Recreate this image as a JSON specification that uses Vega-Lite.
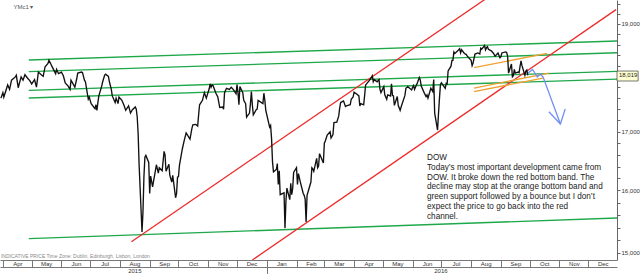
{
  "$schema": "https://vega.github.io/schema/vega-lite/v6.json",
  "width": 617,
  "height": 260,
  "autosize": {"type": "none"},
  "padding": {"left": 0, "top": 0, "right": 23, "bottom": 14},
  "background": "white",
  "view": {"stroke": null},
  "config": {"font": "Liberation Sans"},
  "datasets": {
    "price": [
      {"d":"2015-03-30","p":17600},{"d":"2015-04-01","p":17700},{"d":"2015-04-02","p":17620},{"d":"2015-04-06","p":17840},{"d":"2015-04-08","p":17760},{"d":"2015-04-10","p":17930},{"d":"2015-04-14","p":17990},{"d":"2015-04-15","p":18020},{"d":"2015-04-17","p":17790},{"d":"2015-04-20","p":17990},{"d":"2015-04-22","p":17930},{"d":"2015-04-24","p":18030},{"d":"2015-04-27","p":17960},{"d":"2015-04-29","p":17920},
      {"d":"2015-05-01","p":17860},{"d":"2015-05-04","p":17940},{"d":"2015-05-06","p":17800},{"d":"2015-05-08","p":18080},{"d":"2015-05-11","p":18030},{"d":"2015-05-13","p":18000},{"d":"2015-05-15","p":18180},{"d":"2015-05-18","p":18240},{"d":"2015-05-19","p":18300},{"d":"2015-05-21","p":18230},{"d":"2015-05-22","p":18190},{"d":"2015-05-26","p":18050},{"d":"2015-05-27","p":18130},{"d":"2015-05-29","p":18050},
      {"d":"2015-06-01","p":18080},{"d":"2015-06-03","p":18010},{"d":"2015-06-05","p":17880},{"d":"2015-06-08","p":17820},{"d":"2015-06-10","p":17760},{"d":"2015-06-11","p":17930},{"d":"2015-06-15","p":17800},{"d":"2015-06-17","p":17960},{"d":"2015-06-18","p":18060},{"d":"2015-06-22","p":18080},{"d":"2015-06-23","p":18070},{"d":"2015-06-25","p":17930},{"d":"2015-06-26","p":17900},{"d":"2015-06-29","p":17580},{"d":"2015-06-30","p":17620},
      {"d":"2015-07-01","p":17560},{"d":"2015-07-02","p":17500},{"d":"2015-07-06","p":17410},{"d":"2015-07-07","p":17480},{"d":"2015-07-08","p":17380},{"d":"2015-07-09","p":17520},{"d":"2015-07-10","p":17640},{"d":"2015-07-13","p":17820},{"d":"2015-07-14","p":17900},{"d":"2015-07-16","p":18020},{"d":"2015-07-17","p":18040},{"d":"2015-07-20","p":18000},{"d":"2015-07-21","p":17900},{"d":"2015-07-23","p":17760},{"d":"2015-07-24","p":17640},{"d":"2015-07-27","p":17520},{"d":"2015-07-28","p":17600},{"d":"2015-07-30","p":17500},{"d":"2015-07-31","p":17620},
      {"d":"2015-08-03","p":17560},{"d":"2015-08-05","p":17480},{"d":"2015-08-07","p":17380},{"d":"2015-08-10","p":17460},{"d":"2015-08-12","p":17330},{"d":"2015-08-14","p":17390},{"d":"2015-08-17","p":17440},{"d":"2015-08-18","p":17400},{"d":"2015-08-19","p":17260},{"d":"2015-08-20","p":16950},{"d":"2015-08-21","p":16420},{"d":"2015-08-24","p":15330},{"d":"2015-08-25","p":15650},{"d":"2015-08-26","p":16230},{"d":"2015-08-27","p":16560},{"d":"2015-08-28","p":16590},{"d":"2015-08-31","p":16470},
      {"d":"2015-09-01","p":15950},{"d":"2015-09-02","p":16240},{"d":"2015-09-04","p":16060},{"d":"2015-09-08","p":16430},{"d":"2015-09-10","p":16290},{"d":"2015-09-11","p":16380},{"d":"2015-09-14","p":16330},{"d":"2015-09-16","p":16660},{"d":"2015-09-17","p":16600},{"d":"2015-09-18","p":16320},{"d":"2015-09-21","p":16440},{"d":"2015-09-22","p":16250},{"d":"2015-09-24","p":16140},{"d":"2015-09-25","p":16250},{"d":"2015-09-28","p":15880},{"d":"2015-09-29","p":15950},{"d":"2015-09-30","p":16220},
      {"d":"2015-10-01","p":16230},{"d":"2015-10-02","p":16420},{"d":"2015-10-05","p":16700},{"d":"2015-10-07","p":16850},{"d":"2015-10-09","p":16980},{"d":"2015-10-13","p":16870},{"d":"2015-10-15","p":17060},{"d":"2015-10-16","p":17120},{"d":"2015-10-19","p":17130},{"d":"2015-10-21","p":17100},{"d":"2015-10-22","p":17300},{"d":"2015-10-23","p":17480},{"d":"2015-10-26","p":17560},{"d":"2015-10-28","p":17700},{"d":"2015-10-30","p":17600},
      {"d":"2015-11-02","p":17770},{"d":"2015-11-03","p":17860},{"d":"2015-11-04","p":17800},{"d":"2015-11-05","p":17840},{"d":"2015-11-06","p":17830},{"d":"2015-11-09","p":17690},{"d":"2015-11-11","p":17620},{"d":"2015-11-13","p":17430},{"d":"2015-11-16","p":17440},{"d":"2015-11-17","p":17400},{"d":"2015-11-18","p":17700},{"d":"2015-11-20","p":17780},{"d":"2015-11-23","p":17760},{"d":"2015-11-25","p":17800},{"d":"2015-11-27","p":17760},{"d":"2015-11-30","p":17680},
      {"d":"2015-12-01","p":17850},{"d":"2015-12-02","p":17700},{"d":"2015-12-03","p":17480},{"d":"2015-12-04","p":17810},{"d":"2015-12-07","p":17700},{"d":"2015-12-08","p":17560},{"d":"2015-12-10","p":17500},{"d":"2015-12-11","p":17260},{"d":"2015-12-14","p":17330},{"d":"2015-12-15","p":17500},{"d":"2015-12-16","p":17720},{"d":"2015-12-17","p":17470},{"d":"2015-12-18","p":17300},{"d":"2015-12-21","p":17390},{"d":"2015-12-22","p":17400},{"d":"2015-12-23","p":17560},{"d":"2015-12-28","p":17500},{"d":"2015-12-29","p":17690},{"d":"2015-12-30","p":17560},{"d":"2015-12-31","p":17380},
      {"d":"2016-01-04","p":17080},{"d":"2016-01-05","p":17110},{"d":"2016-01-06","p":16880},{"d":"2016-01-07","p":16480},{"d":"2016-01-08","p":16310},{"d":"2016-01-11","p":16350},{"d":"2016-01-12","p":16450},{"d":"2016-01-13","p":16100},{"d":"2016-01-14","p":16330},{"d":"2016-01-15","p":15930},{"d":"2016-01-19","p":15960},{"d":"2016-01-20","p":15390},{"d":"2016-01-21","p":15830},{"d":"2016-01-22","p":16040},{"d":"2016-01-25","p":15850},{"d":"2016-01-26","p":16120},{"d":"2016-01-27","p":15930},{"d":"2016-01-28","p":16030},{"d":"2016-01-29","p":16300},
      {"d":"2016-02-01","p":16380},{"d":"2016-02-02","p":16100},{"d":"2016-02-03","p":16280},{"d":"2016-02-05","p":16140},{"d":"2016-02-08","p":15950},{"d":"2016-02-09","p":15920},{"d":"2016-02-10","p":15860},{"d":"2016-02-11","p":15490},{"d":"2016-02-12","p":15920},{"d":"2016-02-16","p":16140},{"d":"2016-02-17","p":16380},{"d":"2016-02-18","p":16360},{"d":"2016-02-19","p":16320},{"d":"2016-02-22","p":16540},{"d":"2016-02-23","p":16380},{"d":"2016-02-24","p":16410},{"d":"2016-02-25","p":16620},{"d":"2016-02-26","p":16580},{"d":"2016-02-29","p":16460},
      {"d":"2016-03-01","p":16800},{"d":"2016-03-02","p":16840},{"d":"2016-03-04","p":16940},{"d":"2016-03-07","p":17000},{"d":"2016-03-08","p":16890},{"d":"2016-03-10","p":16950},{"d":"2016-03-11","p":17160},{"d":"2016-03-14","p":17170},{"d":"2016-03-16","p":17280},{"d":"2016-03-17","p":17420},{"d":"2016-03-18","p":17520},{"d":"2016-03-21","p":17550},{"d":"2016-03-23","p":17450},{"d":"2016-03-24","p":17460},{"d":"2016-03-28","p":17480},{"d":"2016-03-29","p":17580},{"d":"2016-03-31","p":17620},
      {"d":"2016-04-01","p":17710},{"d":"2016-04-04","p":17670},{"d":"2016-04-06","p":17640},{"d":"2016-04-07","p":17460},{"d":"2016-04-08","p":17500},{"d":"2016-04-11","p":17480},{"d":"2016-04-12","p":17650},{"d":"2016-04-13","p":17840},{"d":"2016-04-14","p":17860},{"d":"2016-04-18","p":17950},{"d":"2016-04-20","p":18010},{"d":"2016-04-21","p":17900},{"d":"2016-04-22","p":17940},{"d":"2016-04-25","p":17900},{"d":"2016-04-27","p":17940},{"d":"2016-04-28","p":17760},{"d":"2016-04-29","p":17700},
      {"d":"2016-05-02","p":17810},{"d":"2016-05-03","p":17660},{"d":"2016-05-05","p":17580},{"d":"2016-05-06","p":17660},{"d":"2016-05-09","p":17640},{"d":"2016-05-10","p":17860},{"d":"2016-05-11","p":17650},{"d":"2016-05-12","p":17640},{"d":"2016-05-13","p":17470},{"d":"2016-05-16","p":17630},{"d":"2016-05-17","p":17470},{"d":"2016-05-19","p":17380},{"d":"2016-05-20","p":17440},{"d":"2016-05-24","p":17650},{"d":"2016-05-25","p":17780},{"d":"2016-05-27","p":17810},{"d":"2016-05-31","p":17750},
      {"d":"2016-06-01","p":17800},{"d":"2016-06-02","p":17830},{"d":"2016-06-03","p":17760},{"d":"2016-06-06","p":17880},{"d":"2016-06-08","p":17980},{"d":"2016-06-09","p":17930},{"d":"2016-06-10","p":17820},{"d":"2016-06-13","p":17700},{"d":"2016-06-15","p":17630},{"d":"2016-06-16","p":17660},{"d":"2016-06-17","p":17600},{"d":"2016-06-20","p":17780},{"d":"2016-06-22","p":17720},{"d":"2016-06-23","p":17940},{"d":"2016-06-24","p":17330},{"d":"2016-06-27","p":17030},{"d":"2016-06-28","p":17330},{"d":"2016-06-29","p":17600},{"d":"2016-06-30","p":17850},
      {"d":"2016-07-01","p":17880},{"d":"2016-07-05","p":17780},{"d":"2016-07-06","p":17870},{"d":"2016-07-07","p":17860},{"d":"2016-07-08","p":18100},{"d":"2016-07-11","p":18190},{"d":"2016-07-12","p":18300},{"d":"2016-07-13","p":18300},{"d":"2016-07-14","p":18460},{"d":"2016-07-15","p":18430},{"d":"2016-07-18","p":18480},{"d":"2016-07-20","p":18520},{"d":"2016-07-21","p":18440},{"d":"2016-07-22","p":18500},{"d":"2016-07-25","p":18430},{"d":"2016-07-27","p":18410},{"d":"2016-07-28","p":18380},{"d":"2016-07-29","p":18360},
      {"d":"2016-08-01","p":18300},{"d":"2016-08-02","p":18200},{"d":"2016-08-03","p":18250},{"d":"2016-08-05","p":18420},{"d":"2016-08-08","p":18440},{"d":"2016-08-10","p":18420},{"d":"2016-08-11","p":18530},{"d":"2016-08-12","p":18510},{"d":"2016-08-15","p":18580},{"d":"2016-08-16","p":18500},{"d":"2016-08-17","p":18540},{"d":"2016-08-18","p":18560},{"d":"2016-08-19","p":18510},{"d":"2016-08-22","p":18480},{"d":"2016-08-24","p":18440},{"d":"2016-08-26","p":18380},{"d":"2016-08-29","p":18440},{"d":"2016-08-31","p":18350},
      {"d":"2016-09-01","p":18370},{"d":"2016-09-02","p":18440},{"d":"2016-09-06","p":18460},{"d":"2016-09-07","p":18450},{"d":"2016-09-08","p":18380},{"d":"2016-09-09","p":18060},{"d":"2016-09-12","p":18230},{"d":"2016-09-13","p":17990},{"d":"2016-09-14","p":18010},{"d":"2016-09-15","p":18130},{"d":"2016-09-16","p":18060},{"d":"2016-09-19","p":18080},{"d":"2016-09-20","p":18070},{"d":"2016-09-21","p":18190},{"d":"2016-09-22","p":18290},{"d":"2016-09-23","p":18200},{"d":"2016-09-26","p":18020},{"d":"2016-09-27","p":18100},{"d":"2016-09-28","p":18120},{"d":"2016-09-29","p":18019}
    ],
    "lines": [
      {"id":"g1","k":"support","d":"2015-04-28","p":18306},{"id":"g1","k":"support","d":"2016-12-31","p":18669},
      {"id":"g2","k":"support","d":"2015-04-28","p":18087},{"id":"g2","k":"support","d":"2016-12-31","p":18444},
      {"id":"g3","k":"support","d":"2015-04-28","p":17742},{"id":"g3","k":"support","d":"2016-12-31","p":18094},
      {"id":"g4","k":"support","d":"2015-04-28","p":17602},{"id":"g4","k":"support","d":"2016-12-31","p":17950},
      {"id":"g5","k":"support","d":"2015-04-28","p":15223},{"id":"g5","k":"support","d":"2016-12-31","p":15552},
      {"id":"r1","k":"channel","d":"2015-08-13","p":15176},{"id":"r1","k":"channel","d":"2016-08-22","p":19576},
      {"id":"r2","k":"channel","d":"2015-12-17","p":14892},{"id":"r2","k":"channel","d":"2016-12-30","p":19284},
      {"id":"o1","k":"band","d":"2016-08-04","p":18161},{"id":"o1","k":"band","d":"2016-10-19","p":18433},
      {"id":"o2","k":"band","d":"2016-08-04","p":17784},{"id":"o2","k":"band","d":"2016-10-21","p":18061},
      {"id":"o3","k":"band","d":"2016-08-04","p":17719},{"id":"o3","k":"band","d":"2016-10-15","p":17969},
      {"id":"b1","k":"forecast","d":"2016-09-28","p":18044},{"id":"b1","k":"forecast","d":"2016-10-04","p":18128},{"id":"b1","k":"forecast","d":"2016-10-09","p":17988},{"id":"b1","k":"forecast","d":"2016-10-12","p":18044},{"id":"b1","k":"forecast","d":"2016-10-15","p":17988},{"id":"b1","k":"forecast","d":"2016-11-02","p":17137},
      {"id":"b2","k":"forecast","d":"2016-10-21","p":17355},{"id":"b2","k":"forecast","d":"2016-11-02","p":17137},{"id":"b2","k":"forecast","d":"2016-11-07","p":17403}
    ],
    "notes": [
      {"d":"2016-06-16","p":16511,"t":"DOW\nToday’s most important development came from\nDOW. It broke down the red bottom band. The\ndecline may stop at the orange bottom band and\ngreen support followed by a bounce but I don’t\nexpect the price to go back into the red\nchannel."}
    ],
    "footer": [
      {"d":"2015-03-30","p":14930,"t":"INDICATIVE PRICE   Time Zone: Dublin, Edinburgh, Lisbon, London"}
    ],
    "header": [
      {"d":"2015-04-12","p":19290,"t":"YMc1 ▾"}
    ],
    "last": [
      {"d":"2016-12-31","d2":"2017-01-22","p":18019,"plo":17914,"phi":18099,"t":"18,019"}
    ],
    "years": [
      {"d":"2015-08-16"},{"d":"2016-06-30"}
    ]
  },
  "layer": [
    {
      "data": {"name": "lines"},
      "mark": {"type": "line", "clip": true, "strokeWidth": 1.3},
      "encoding": {
        "x": {
          "field": "d", "type": "temporal",
          "scale": {"domain": [{"year": 2015, "month": 3, "date": 29}, {"year": 2016, "month": 12, "date": 31}]},
          "axis": {
            "orient": "bottom", "format": "%b", "title": null, "grid": false,
            "tickCount": {"interval": "month", "step": 1},
            "tickSize": 7, "tickColor": "#777", "domainColor": "#777",
            "labelPadding": -6.5, "labelOffset": 14.5, "labelAlign": "center", "labelBaseline": "top",
            "labelFontSize": 6, "labelColor": "#333", "labelOverlap": false, "labelBound": false, "labelFlush": false
          }
        },
        "y": {
          "field": "p", "type": "quantitative",
          "scale": {"type": "log", "domain": [14892, 19476], "nice": false, "zero": false},
          "axis": {
            "orient": "right", "title": null, "grid": false,
            "values": [15000,15200,15400,15600,15800,16000,16200,16400,16600,16800,17000,17200,17400,17600,17800,18000,18200,18400,18600,18800,19000,19200,19400],
            "labelExpr": "datum.value % 1000 == 0 && datum.value != 18000 ? format(datum.value, ',') : ''",
            "tickSize": 3, "tickColor": "#666", "domainColor": "#666",
            "labelFontSize": 6, "labelColor": "#333", "labelPadding": 1,
            "labelOverlap": false, "labelFlush": false, "labelBound": false
          }
        },
        "color": {
          "field": "k", "type": "nominal", "legend": null,
          "scale": {"domain": ["support", "channel", "band", "forecast"], "range": ["#1ea84a", "#ee2b2b", "#f0a030", "#6f8ff5"]}
        },
        "detail": {"field": "id"}
      }
    },
    {
      "data": {"name": "price"},
      "mark": {"type": "line", "color": "#111", "strokeWidth": 1.35, "clip": true},
      "encoding": {
        "x": {"field": "d", "type": "temporal", "axis": null},
        "y": {"field": "p", "type": "quantitative"}
      }
    },
    {
      "data": {"name": "notes"},
      "mark": {"type": "text", "align": "left", "baseline": "alphabetic", "lineBreak": "\n", "lineHeight": 9.8, "fontSize": 8.2, "color": "#222"},
      "encoding": {
        "x": {"field": "d", "type": "temporal", "axis": null},
        "y": {"field": "p", "type": "quantitative"},
        "text": {"field": "t"}
      }
    },
    {
      "data": {"name": "footer"},
      "mark": {"type": "text", "align": "left", "baseline": "alphabetic", "fontSize": 5, "color": "#888"},
      "encoding": {
        "x": {"field": "d", "type": "temporal", "axis": null},
        "y": {"field": "p", "type": "quantitative"},
        "text": {"field": "t"}
      }
    },
    {
      "data": {"name": "header"},
      "mark": {"type": "text", "align": "left", "baseline": "alphabetic", "fontSize": 6, "color": "#555"},
      "encoding": {
        "x": {"field": "d", "type": "temporal", "axis": null},
        "y": {"field": "p", "type": "quantitative"},
        "text": {"field": "t"}
      }
    },
    {
      "data": {"name": "last"},
      "mark": {"type": "rect", "fill": "#ffffd2", "stroke": "#555", "strokeWidth": 0.8},
      "encoding": {
        "x": {"field": "d", "type": "temporal", "axis": null},
        "x2": {"field": "d2"},
        "y": {"field": "plo", "type": "quantitative"},
        "y2": {"field": "phi"}
      }
    },
    {
      "data": {"name": "last"},
      "mark": {"type": "text", "align": "left", "baseline": "middle", "fontSize": 6, "color": "#222", "dx": 2},
      "encoding": {
        "x": {"field": "d", "type": "temporal", "axis": null},
        "y": {"field": "p", "type": "quantitative"},
        "text": {"field": "t"}
      }
    },
    {
      "data": {"name": "years"},
      "mark": {"type": "point", "opacity": 0},
      "encoding": {
        "x": {
          "field": "d", "type": "temporal",
          "axis": {
            "orient": "bottom", "offset": 7, "title": null, "grid": false,
            "values": [{"year": 2015, "month": 8, "date": 16}, {"year": 2016, "month": 1, "date": 1}, {"year": 2016, "month": 6, "date": 30}],
            "labelExpr": "month(datum.value) == 0 && date(datum.value) == 1 ? '' : timeFormat(datum.value, '%Y')",
            "tickSize": 7, "tickColor": "#777", "domainColor": "#777",
            "tickOpacity": {"condition": {"test": "month(datum.value) == 0 && date(datum.value) == 1", "value": 1}, "value": 0},
            "labelPadding": -6.5, "labelBaseline": "top", "labelAlign": "center",
            "labelFontSize": 6, "labelColor": "#333", "labelOverlap": false, "labelBound": false, "labelFlush": false
          }
        },
        "y": {"value": 0}
      }
    }
  ],
  "resolve": {"axis": {"x": "independent"}}
}
